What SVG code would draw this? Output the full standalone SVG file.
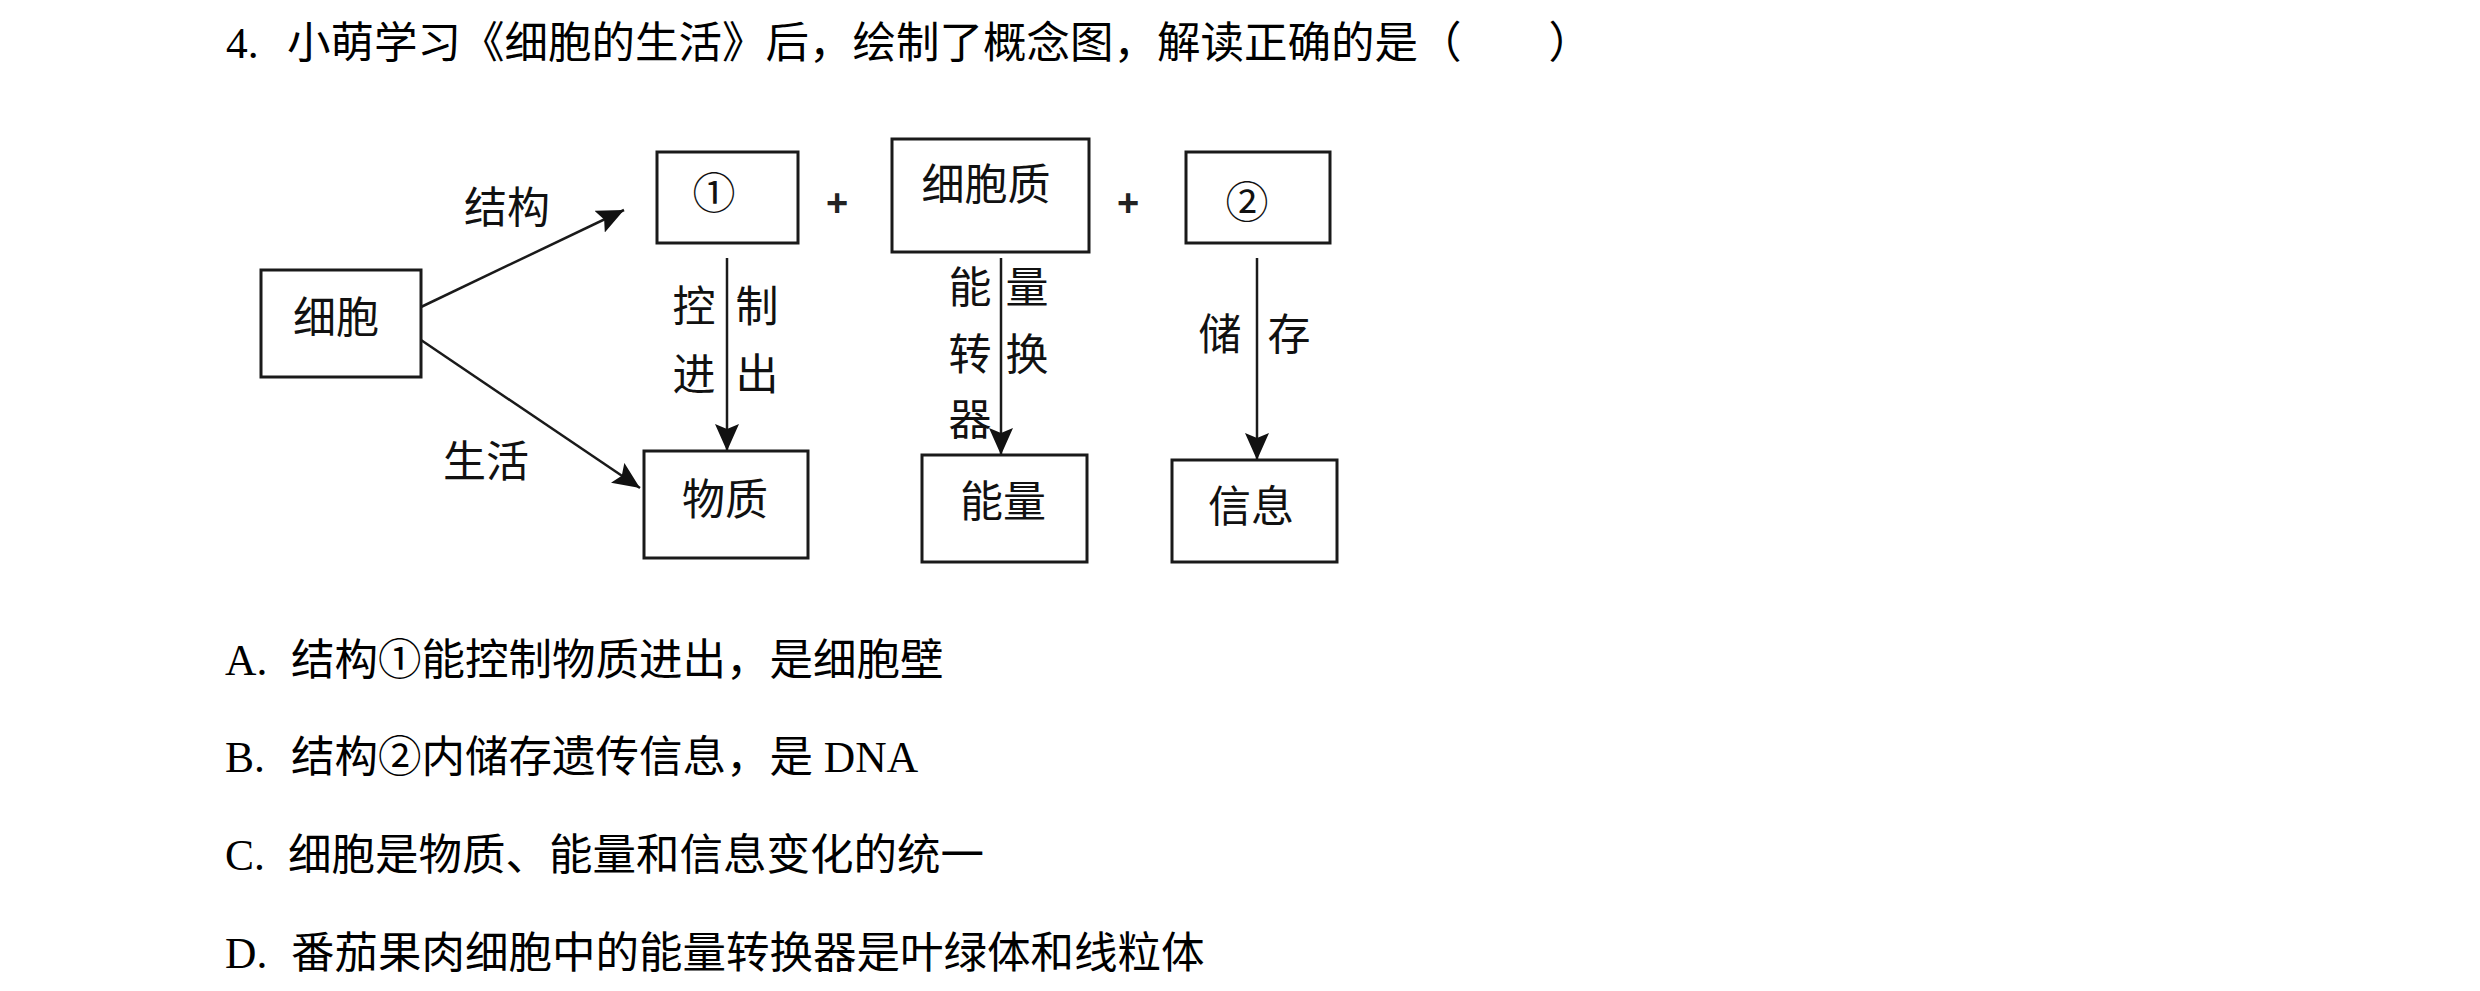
<svg xmlns="http://www.w3.org/2000/svg" width="2480" height="991" viewBox="0 0 2480 991">
  <style>
    .q { font-family: "Liberation Serif", "Noto Sans CJK SC", serif; font-size: 43.5px; fill: #000; }
    .lbl { font-family: "Noto Sans CJK SC", "Liberation Sans", sans-serif; font-size: 43px; fill: #111; text-anchor: middle; }
    .plus { font-family: "Liberation Sans", sans-serif; font-size: 38px; font-weight: bold; fill: #222; text-anchor: middle; }
    .box { fill: #fff; stroke: #1a1a1a; stroke-width: 3; }
    .edge { fill: none; stroke: #1a1a1a; stroke-width: 2.5; marker-end: url(#arrow); }
  </style>
  <defs>
    <marker id="arrow" markerUnits="userSpaceOnUse" markerWidth="30" markerHeight="24" refX="27" refY="12" orient="auto">
      <path d="M0,0 L27,12 L0,24 L5,12 z" fill="#111"/>
    </marker>
  </defs>
  <rect width="2480" height="991" fill="#fff"/>

  <!-- question stem -->
  <text class="q" x="226" y="58">4.<tspan x="287">小萌学习《细胞的生活》后，绘制了概念图，解读正确的是（　　）</tspan></text>

  <!-- concept map connectors -->
  <g id="connectors">
    <line class="edge" x1="421" y1="307" x2="624" y2="210"/>
    <line class="edge" x1="421" y1="340" x2="640" y2="488"/>
    <line class="edge" x1="727" y1="258" x2="727" y2="451"/>
    <line class="edge" x1="1001" y1="258" x2="1001" y2="455"/>
    <line class="edge" x1="1257" y1="258" x2="1257" y2="460"/>
    <text class="lbl" x="507" y="223">结构</text>
    <text class="lbl" x="486" y="477">生活</text>
    <text class="lbl" x="694" y="322">控</text>
    <text class="lbl" x="757" y="322">制</text>
    <text class="lbl" x="694" y="390">进</text>
    <text class="lbl" x="757" y="390">出</text>
    <text class="lbl" x="970" y="303">能</text>
    <text class="lbl" x="1027" y="303">量</text>
    <text class="lbl" x="970" y="370">转</text>
    <text class="lbl" x="1027" y="370">换</text>
    <text class="lbl" x="970" y="435">器</text>
    <text class="lbl" x="1220" y="350">储</text>
    <text class="lbl" x="1289" y="350">存</text>
    <text class="plus" x="837" y="216">+</text>
    <text class="plus" x="1128" y="216">+</text>
  </g>

  <!-- concept map nodes -->
  <g id="cell">
    <rect class="box" x="261" y="270" width="160" height="107"/>
    <text class="lbl" x="336" y="333">细胞</text>
  </g>
  <g id="structure1">
    <rect class="box" x="657" y="152" width="141" height="91"/>
    <text class="lbl" x="714" y="209" font-size="46">①</text>
  </g>
  <g id="cytoplasm">
    <rect class="box" x="892" y="139" width="197" height="113"/>
    <text class="lbl" x="986" y="200">细胞质</text>
  </g>
  <g id="structure2">
    <rect class="box" x="1186" y="152" width="144" height="91"/>
    <text class="lbl" x="1247" y="218" font-size="46">②</text>
  </g>
  <g id="matter">
    <rect class="box" x="644" y="451" width="164" height="107"/>
    <text class="lbl" x="725" y="515">物质</text>
  </g>
  <g id="energy">
    <rect class="box" x="922" y="455" width="165" height="107"/>
    <text class="lbl" x="1003" y="517">能量</text>
  </g>
  <g id="information">
    <rect class="box" x="1172" y="460" width="165" height="102"/>
    <text class="lbl" x="1251" y="522">信息</text>
  </g>

  <!-- answer options -->
  <text class="q" x="225" y="675">A.<tspan x="291">结构①能控制物质进出，是细胞壁</tspan></text>
  <text class="q" x="225" y="772">B.<tspan x="291">结构②内储存遗传信息，是 DNA</tspan></text>
  <text class="q" x="225" y="870">C.<tspan x="288">细胞是物质、能量和信息变化的统一</tspan></text>
  <text class="q" x="225" y="968">D.<tspan x="291">番茄果肉细胞中的能量转换器是叶绿体和线粒体</tspan></text>
</svg>
